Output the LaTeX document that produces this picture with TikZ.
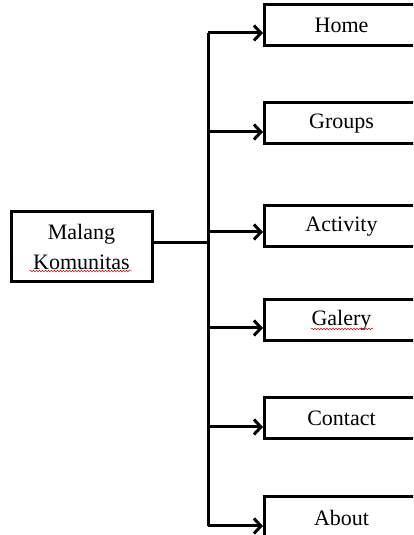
\documentclass[tikz,border=0pt]{standalone}
\usepackage{fontspec}
\setmainfont{Liberation Serif}
\usetikzlibrary{arrows.meta,positioning,decorations.pathmorphing}

\begin{document}
\begin{tikzpicture}[
    x=1pt, y=1pt,
    menu/.style={draw, line width=3pt, anchor=west, minimum width=180pt, minimum height=41pt,
                 font=\fontsize{22}{30}\selectfont, inner sep=0pt},
    root/.style={draw, line width=3pt, minimum width=141pt, minimum height=70pt,
                 font=\fontsize{22}{30}\selectfont, align=center, inner sep=0pt},
    link/.style={line width=3pt},
    arr/.style={line width=3pt, -{Straight Barb[length=7pt,width=15pt]}},
    typo/.style={red!80!black, line width=0.5pt, decorate,
                 decoration={snake, amplitude=0.7pt, segment length=3pt}},
]
\useasboundingbox (0,0) rectangle (413,535);
\clip (0,0) rectangle (413,535);

% root node
\node[root] (malang) at (81.5,288) {Malang\\Komunitas};

% menu pages, text centred, about 98pt apart
\node[menu] (home)     at (263,509.5) {\hspace*{-26pt}Home};
\node[menu] (groups)   at (263,411.5) {\hspace*{-26pt}Groups};
\node[menu] (activity) at (263,308.5) {\hspace*{-26pt}Activity};
\node[menu] (galery)   at (263,215)   {\hspace*{-26pt}Galery};
\node[menu] (contact)  at (263,116.5) {\hspace*{-26pt}Contact};
\node[menu] (about)    at (263,17.5)  {\hspace*{-26pt}About};

% trunk
\coordinate (trunk-top) at (208,502);
\coordinate (trunk-bot) at (208,9);
\coordinate (trunk-mid) at (208,292);
\draw[link] (trunk-top) -- (trunk-bot);
\draw[link] (malang.east |- trunk-mid) -- (trunk-mid);

% branches
\draw[arr] (trunk-top) -- ([yshift=-7.5pt]home.west);
\draw[arr] (trunk-top |- 0,403) -- ([yshift=-8.5pt]groups.west);
\draw[arr] (trunk-top |- 0,303) -- ([yshift=-5.5pt]activity.west);
\draw[arr] (trunk-top |- 0,207) -- ([yshift=-8pt]galery.west);
\draw[arr] (trunk-top |- 0,108) -- ([yshift=-8.5pt]contact.west);
\draw[arr] (trunk-bot) -- ([yshift=-8.5pt]about.west);

% spell-check marks
\draw[typo] ([xshift=-52pt,yshift=-24pt]malang.center) -- ([xshift=50pt,yshift=-24pt]malang.center);
\draw[typo] ([xshift=48pt,yshift=-9pt]galery.west) -- ([xshift=110pt,yshift=-9pt]galery.west);
\end{tikzpicture}
\end{document}
